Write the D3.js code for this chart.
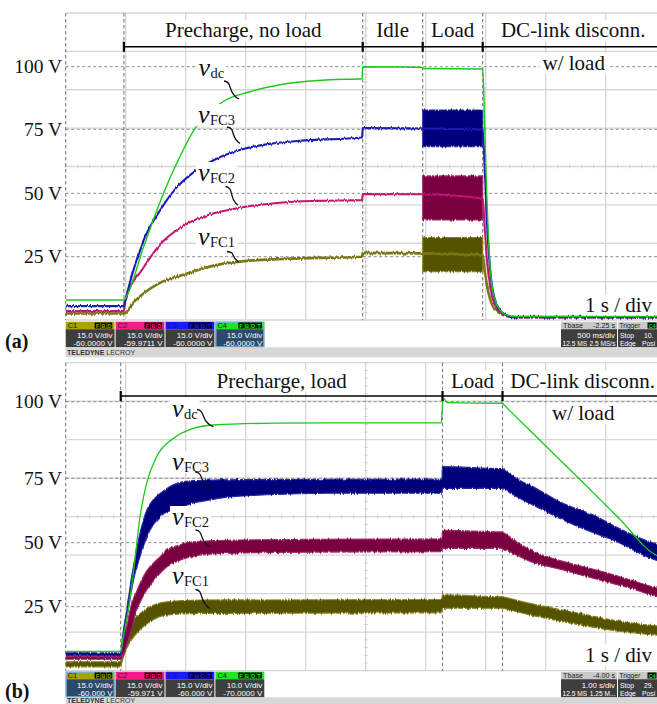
<!DOCTYPE html>
<html>
<head>
<meta charset="utf-8">
<script src="https://cdn.jsdelivr.net/npm/d3@7"></script>
<style>
  body { margin: 0; background: #fff; }
  svg { display: block; }
</style>
</head>
<body>
<svg id="fig" width="657" height="704"></svg>
<script>
// ---------------- data ----------------
// time in seconds (1 s per division), voltages in volts
const voltTicks  = [25, 50, 75, 100];
const voltLabels = ["25 V", "50 V", "75 V", "100 V"];

// (a) precharge without load, idle, load, DC-link disconnection
const phaseNamesA = ["Precharge, no load", "Idle", "Load", "DC-link disconn."];
const phaseEdgesA = [0.97, 4.95, 5.95, 6.95, 9.97];

const vdcA = [[0,7.5],[0.97,7.5],[0.99,8],[1.3,29],[1.5,42],[1.63,50],[1.9,64.2],[2.16,75.5],[2.4,81.5],
  [2.62,86],[3.07,90],[3.57,92.8],[4.4,94.8],[4.94,95.2],[4.95,100],[5.5,99.9],[5.94,99.7],[5.96,99.3],
  [6.95,99.1],[6.97,88],[6.99,70],[7.02,48],[7.05,30],[7.1,14],[7.15,8],[7.23,3.6],[7.34,1.5],[7.5,0.8],[9.9,0.8]];
const vFC3A = [[0,5],[0.97,5],[0.99,7],[1.29,31],[1.6,44.3],[1.85,52.3],[2.13,58.2],[2.49,63.2],[2.9,66.9],
  [3.4,69.3],[3.9,70.5],[4.94,71.8],[4.95,75.5],[5.95,75.3],[6.95,75],[6.98,62],[7.01,44],[7.05,27],
  [7.1,14],[7.15,8],[7.23,3.6],[7.34,1.4],[7.5,0.5],[9.9,0.5]];
const vFC2A = [[0,3],[0.97,3],[0.99,7],[1.29,20.3],[1.62,31],[2.0,37.7],[2.4,41.6],[2.9,44.3],[3.57,46.3],
  [4.18,47],[4.94,47.3],[4.95,49.7],[5.95,49.6],[6.95,48],[6.98,38],[7.01,27],[7.05,17],[7.1,9.5],
  [7.15,5.8],[7.23,2.8],[7.34,1.1],[7.5,0.4],[9.9,0.4]];
const vFC1A = [[0,2],[0.97,2],[1.15,7],[1.57,14.4],[1.96,17.7],[2.52,21.7],[2.9,23],[3.63,24.1],[4.94,25],
  [4.95,26.5],[5.95,26.3],[6.95,25.5],[6.98,20],[7.01,15],[7.05,10],[7.1,6],[7.15,4],[7.23,2.2],
  [7.34,1],[7.5,0.6],[9.9,0.6]];
// switching ripple envelopes while loaded: [t, min, max]
const bandFC3A = [[5.95,68.2,82.7],[6.95,68.2,82.7]];
const bandFC2A = [[5.95,39.5,56.8],[6.95,39.5,56.8]];
const bandFC1A = [[5.95,18.9,32.6],[6.95,18.9,32.6]];

// (b) precharge with load, load, DC-link disconnection
const phaseNamesB = ["Precharge, load", "Load", "DC-link disconn."];
const phaseEdgesB = [0.917, 6.28, 7.28, 9.95];

const vdcB = [[0,7.5],[0.917,7.5],[0.95,12],[1.03,22],[1.127,38],[1.238,60],[1.35,73.2],[1.517,82.1],
  [1.793,88],[2.127,91.3],[2.46,92.4],[3.5,93],[4.405,93.1],[6.26,93.1],[6.28,99],[6.3,101],[6.36,99.7],
  [7.26,99.5],[7.28,99.5],[7.3,99.1],[7.9,87.5],[8.55,75],[9.2,60],[9.85,45],[9.9,44.5]];
const bandFC3B = [[0,6,7],[0.917,6,7],[0.95,10,14],[1.017,20,23.7],[1.072,27.6,33],[1.127,35,40.6],
  [1.238,44.5,53.7],[1.35,52,62.6],[1.405,54.8,65],[1.572,60,69.1],[1.683,61.9,71],[1.793,62.6,72.5],
  [2.127,65.4,74.1],[2.46,66.8,74.3],[2.572,67.3,74.4],[3.35,68.6,74.5],[4.405,69.2,74.6],[6.27,69.2,74.6],
  [6.28,71.1,78.8],[6.3,71.1,78.8],[7.26,71.1,78.2],[7.28,71.1,78.2],[7.3,70.8,77.9],[7.627,66.5,73.5],
  [7.738,65.2,72.4],[7.96,62.6,69.5],[8.183,60,66.5],[8.905,52.9,59.5],[9.072,51.5,57.4],[9.85,43.1,49.6],
  [9.9,42.8,49.3]];
const bandFC2B = [[0,4.5,5.5],[0.917,4.5,5.5],[0.96,6,11.9],[1.043,12,20],[1.072,14,23.7],[1.183,23.7,31],
  [1.238,26.5,34.1],[1.35,31.5,39],[1.46,35,42],[1.572,38,44.5],[1.683,40.5,47.1],[1.85,42.6,48.8],
  [2.017,44,50],[2.238,45.2,50.5],[2.46,45.6,50.8],[2.793,45.9,51],[4,46.3,51.3],[6.27,46.5,51.5],
  [6.28,47.8,54.8],[6.3,47.8,54.8],[7.26,47.8,54.2],[7.28,47.8,54.2],[7.3,47.6,53.9],[7.74,42.7,47.2],
  [8.29,39.3,42.7],[8.57,37.5,41],[9.13,34,37.5],[9.405,32.3,35.5],[9.85,29,32.3],[9.9,28.8,32]];
const bandFC1B = [[0,1.5,3.5],[0.917,1.5,3.5],[0.933,3,9.4],[1.017,8.75,15.9],[1.183,14.6,21.1],
  [1.405,19.1,25],[1.683,21.8,26.9],[2.238,22.4,27.6],[6.27,22.6,27.8],[6.28,24.4,29.6],[6.3,24.4,29.6],
  [7.26,24.4,28.9],[7.28,24.4,28.9],[7.3,24.3,28.8],[7.738,21.8,26.3],[8.572,17.9,22.4],[9.293,15.2,19.1],
  [9.85,13.9,17.5],[9.9,13.8,17.4]];

// oscilloscope status bar
const channelNames = ["C1", "C2", "C3", "C4"];
const channelFlags = ["FBD", "FBD", "FBDT", "FBDT"];
const voltsPerDivA = ["15.0 V/div", "15.0 V/div", "15.0 V/div", "15.0 V/div"];
const offsetsA     = ["-60.0000 V", "-59.9711 V", "-60.0000 V", "-60.0000 V"];
const voltsPerDivB = ["15.0 V/div", "15.0 V/div", "15.0 V/div", "10.0 V/div"];
const offsetsB     = ["-60.000 V", "-59.971 V", "-60.000 V", "-70.0000 V"];
const timebaseA = ["-2.25 s", "500 ms/div", "12.5 MS", "2.5 MS/s"];
const timebaseB = ["-4.00 s", "1.00 s/div", "12.5 MS", "1.25 M..."];
const triggerA  = ["Stop", "10.", "Edge", "Posi"];
const triggerB  = ["Stop", "29.", "Edge", "Posi"];

// ---------------- drawing ----------------
const W = 657, H = 704;
const SERIF = "'Liberation Serif', 'Times New Roman', serif";
const SANS = "'Liberation Sans', Arial, sans-serif";
const svg = d3.select("#fig");

// vertical-only jitter for the switching-noise traces
const defs = svg.append("defs");
const jf = defs.append("filter").attr("id", "jitter")
  .attr("x", "-2%").attr("y", "-10%").attr("width", "104%").attr("height", "120%");
jf.append("feTurbulence").attr("type", "fractalNoise").attr("baseFrequency", "0.7 0.03")
  .attr("numOctaves", 1).attr("seed", 4).attr("result", "n");
jf.append("feColorMatrix").attr("in", "n").attr("type", "matrix")
  .attr("values", "0 0 0 0 0.5  1 0 0 0 0  0 0 0 0 0  0 0 0 0 1").attr("result", "m");
jf.append("feDisplacementMap").attr("in", "SourceGraphic").attr("in2", "m").attr("scale", 4)
  .attr("xChannelSelector", "R").attr("yChannelSelector", "G");

const x = d3.scaleLinear().domain([0, 10]).range([65.7, 665.7]);

const colors = {
  green: "#19c819", blue: "#1c1cb4", pink: "#c2166f", olive: "#7c7714",
  blueBand: "#05057a", pinkBand: "#78063f", oliveBand: "#575200",
  blueEdge: "#2a2aa8", pinkEdge: "#a8286a", oliveEdge: "#86821e"
};

function drawPanel(cfg) {
  const g = svg.append("g");
  const y = cfg.y;
  const left = x(0), right = W, top = cfg.top, bottom = cfg.bottom;

  const clipId = "clip" + cfg.id;
  defs.append("clipPath").attr("id", clipId)
    .append("rect").attr("x", left).attr("y", top).attr("width", right - left).attr("height", bottom - top);

  // scope graticule
  const hGrid = d3.range(9).map(k => top + k * (bottom - top) / 8);
  g.selectAll(null).data(hGrid).join("line")
    .attr("x1", left).attr("x2", right).attr("y1", d => d).attr("y2", d => d)
    .attr("stroke", "#d6d6d6").attr("stroke-width", 1.3);
  g.selectAll(null).data(d3.range(1, 10)).join("line")
    .attr("x1", d => x(d)).attr("x2", d => x(d)).attr("y1", top).attr("y2", bottom)
    .attr("stroke", "#d6d6d6").attr("stroke-width", 1.3);
  // minor ticks on the centre lines
  const midY = hGrid[4], midX = x(5);
  g.selectAll(null).data(d3.range(0, 10.01, 0.2)).join("line")
    .attr("x1", d => x(d)).attr("x2", d => x(d)).attr("y1", midY - 2).attr("y2", midY + 2)
    .attr("stroke", "#d0d0d0").attr("stroke-width", 1);
  g.selectAll(null).data(d3.range(0, 40.01)).join("line")
    .attr("x1", midX - 2).attr("x2", midX + 2)
    .attr("y1", d => top + d * (bottom - top) / 40).attr("y2", d => top + d * (bottom - top) / 40)
    .attr("stroke", "#d0d0d0").attr("stroke-width", 1);

  // voltage reference lines
  g.selectAll(null).data(voltTicks).join("line")
    .attr("x1", left).attr("x2", right).attr("y1", d => y(d)).attr("y2", d => y(d))
    .attr("stroke", "#8c8c8c").attr("stroke-width", 1).attr("stroke-dasharray", "3,2.5");

  // left edge and phase boundaries
  const vDashed = [0].concat(cfg.edges.slice(0, -1));
  g.selectAll(null).data(vDashed).join("line")
    .attr("x1", d => x(d)).attr("x2", d => x(d)).attr("y1", top).attr("y2", bottom)
    .attr("stroke", "#7a7a7a").attr("stroke-width", 1.1).attr("stroke-dasharray", "3.5,2.5");

  // y-axis labels
  g.selectAll(null).data(voltTicks).join("text")
    .attr("x", 62).attr("y", d => y(d)).attr("dy", "0.33em")
    .attr("text-anchor", "end").attr("font-family", SERIF).attr("font-size", 19.5)
    .attr("fill", "#111").text((d, i) => voltLabels[i]);

  // traces
  const plot = g.append("g").attr("clip-path", `url(#${clipId})`);
  const line = d3.line().x(d => x(d[0])).y(d => y(d[1])).curve(d3.curveMonotoneX);
  const area = d3.area().x(d => x(d[0])).y0(d => y(d[1])).y1(d => y(d[2])).curve(d3.curveMonotoneX);

  cfg.bands.forEach(b => {
    plot.append("path").datum(b.data).attr("d", area)
      .attr("fill", b.fill).attr("stroke", b.edge).attr("stroke-width", 1.1).attr("stroke-linejoin", "round")
      .attr("filter", "url(#jitter)");
  });
  cfg.lines.forEach(l => {
    const p = plot.append("path").datum(l.data).attr("d", line)
      .attr("fill", "none").attr("stroke", l.color).attr("stroke-width", l.width)
      .attr("stroke-linejoin", "round");
    if (l.noisy) p.attr("filter", "url(#jitter)");
  });

  // phase header bar
  const hy = cfg.headerY;
  g.append("line").attr("x1", x(cfg.edges[0])).attr("x2", right).attr("y1", hy).attr("y2", hy)
    .attr("stroke", "#000").attr("stroke-width", 1.6);
  g.selectAll(null).data(cfg.edges.slice(0, -1)).join("line")
    .attr("x1", d => x(d)).attr("x2", d => x(d)).attr("y1", hy - 5).attr("y2", hy + 5)
    .attr("stroke", "#000").attr("stroke-width", 2.2);
  cfg.names.forEach((name, i) => {
    const cx = (x(cfg.edges[i]) + x(cfg.edges[i + 1])) / 2;
    labelWithBg(g, cx, cfg.headerTextY, name, "middle", 21, 1.5);
  });

  // annotations
  labelWithBg(g, cfg.wload[0], cfg.wload[1], "w/ load", "start", 21, 3);
  labelWithBg(g, cfg.perDiv[0], cfg.perDiv[1], "1 s / div", "start", 21, 3);

  cfg.traceLabels.forEach(t => {
    const txt = g.append("text").attr("x", t.x).attr("y", t.y)
      .attr("font-family", SERIF).attr("fill", "#111");
    txt.append("tspan").attr("font-style", "italic").attr("font-size", 26).text("v");
    txt.append("tspan").attr("font-size", 14.5).attr("dy", 2).attr("dx", 0.5).text(t.sub);
    const bb = txt.node().getBBox();
    const boxTop = bb.y + 4, boxBottom = t.y + 3;
    g.insert("rect", () => txt.node())
      .attr("x", bb.x - 2).attr("y", boxTop).attr("width", bb.width + 4).attr("height", boxBottom - boxTop)
      .attr("fill", "#fff");
    const [x0, y0] = t.from, [x1, y1] = t.to;
    g.append("path")
      .attr("d", `M${x0},${y0} C${x0 + 9},${y0 + 1} ${x0 + 3},${y1 - 6} ${x1},${y1}`)
      .attr("fill", "none").attr("stroke", "#111").attr("stroke-width", 1.3);
  });

  // panel tag
  g.append("text").attr("x", 5).attr("y", cfg.tagY)
    .attr("font-family", SERIF).attr("font-weight", "bold").attr("font-size", 20)
    .attr("fill", "#111").text(cfg.tag);

  drawStatus(cfg.statusY, cfg.status);
}

function labelWithBg(g, lx, ly, str, anchor, size, pad) {
  const t = g.append("text").attr("x", lx).attr("y", ly).attr("text-anchor", anchor)
    .attr("font-family", SERIF).attr("font-size", size).attr("fill", "#111").text(str);
  const bb = t.node().getBBox();
  g.insert("rect", () => t.node())
    .attr("x", bb.x - pad).attr("y", bb.y + 2).attr("width", bb.width + 2 * pad).attr("height", bb.height - 3)
    .attr("fill", "#fff");
}

function drawStatus(top, st) {
  const g = svg.append("g").attr("font-family", SANS);
  const headH = 7.5, bodyH = 18.1;
  const chColors = ["#aaa400", "#ff1a8c", "#1a1aff", "#22e622"];
  channelNames.forEach((c, i) => {
    const bx = 65.7 + i * 49.9, bw = 48.9;
    const sel = i === st.selected;
    g.append("rect").attr("x", bx).attr("y", top).attr("width", bw).attr("height", headH).attr("fill", chColors[i]);
    g.append("rect").attr("x", bx).attr("y", top + headH).attr("width", bw).attr("height", bodyH)
      .attr("fill", sel ? "#2c4a6a" : "#3e3e3e");
    if (sel) {
      g.append("rect").attr("x", bx + 0.5).attr("y", top + 0.5).attr("width", bw - 1).attr("height", headH + bodyH - 1)
        .attr("fill", "none").attr("stroke", "#6fb4e6").attr("stroke-width", 1.2);
    }
    g.append("text").attr("x", bx + 2).attr("y", top + 6.6).attr("font-size", 7.5).attr("fill", "#1a1a1a").text(c);
    const flags = channelFlags[i].split("");
    flags.forEach((f, k) => {
      const fx = bx + bw - 2 - (flags.length - k) * 6;
      g.append("rect").attr("x", fx).attr("y", top + 0.8).attr("width", 5.6).attr("height", 6).attr("fill", "#000");
      g.append("text").attr("x", fx + 2.8).attr("y", top + 6).attr("text-anchor", "middle")
        .attr("font-size", 5.8).attr("font-weight", "bold").attr("fill", chColors[i]).text(f);
    });
    g.append("text").attr("x", bx + bw - 2).attr("y", top + 16.3).attr("text-anchor", "end")
      .attr("font-size", 8).attr("fill", "#fff").text(st.vdiv[i]);
    g.append("text").attr("x", bx + bw - 2).attr("y", top + 23.8).attr("text-anchor", "end")
      .attr("font-size", 8).attr("fill", "#fff").text(st.offs[i]);
  });
  // timebase box
  const tx = 561, tw = 56;
  g.append("rect").attr("x", tx).attr("y", top).attr("width", tw).attr("height", headH).attr("fill", "#c9c9c9");
  g.append("rect").attr("x", tx).attr("y", top + headH).attr("width", tw).attr("height", bodyH).attr("fill", "#3e3e3e");
  g.append("text").attr("x", tx + 2).attr("y", top + 6.6).attr("font-size", 7.2).attr("fill", "#1a1a1a").text("Tbase");
  g.append("text").attr("x", tx + tw - 2).attr("y", top + 6.6).attr("text-anchor", "end").attr("font-size", 7.2).attr("fill", "#1a1a1a").text(st.tbase[0]);
  g.append("text").attr("x", tx + tw - 2).attr("y", top + 16.3).attr("text-anchor", "end").attr("font-size", 7.8).attr("fill", "#fff").text(st.tbase[1]);
  g.append("text").attr("x", tx + 1.5).attr("y", top + 23.8).attr("font-size", 6.6).attr("fill", "#fff").text(st.tbase[2]);
  g.append("text").attr("x", tx + tw - 1.5).attr("y", top + 23.8).attr("text-anchor", "end").attr("font-size", 6.6).attr("fill", "#fff").text(st.tbase[3]);
  // trigger box (runs off the right edge)
  const gx = 618, gw = 60;
  g.append("rect").attr("x", gx).attr("y", top).attr("width", gw).attr("height", headH).attr("fill", "#c9c9c9");
  g.append("rect").attr("x", gx).attr("y", top + headH).attr("width", gw).attr("height", bodyH).attr("fill", "#3e3e3e");
  g.append("text").attr("x", gx + 1.5).attr("y", top + 6.4).attr("font-size", 6.6).attr("fill", "#1a1a1a").text("Trigger");
  g.append("rect").attr("x", gx + 29.5).attr("y", top + 0.8).attr("width", 9).attr("height", 6).attr("fill", "#000");
  g.append("text").attr("x", gx + 34).attr("y", top + 6).attr("text-anchor", "middle").attr("font-size", 5.6)
    .attr("font-weight", "bold").attr("fill", st.trigColor).text(st.trigCh);
  g.append("text").attr("x", gx + 2).attr("y", top + 16.3).attr("font-size", 6.8).attr("fill", "#fff").text(st.trig[0]);
  g.append("text").attr("x", gx + 26).attr("y", top + 16.3).attr("font-size", 6.8).attr("fill", "#fff").text(st.trig[1]);
  g.append("text").attr("x", gx + 2).attr("y", top + 23.8).attr("font-size", 6.8).attr("fill", "#fff").text(st.trig[2]);
  g.append("text").attr("x", gx + 24).attr("y", top + 23.8).attr("font-size", 6.8).attr("fill", "#fff").text(st.trig[3]);
  // brand strip
  const sy = top + headH + bodyH;
  g.append("rect").attr("x", 65.7).attr("y", sy).attr("width", W - 65.7).attr("height", 10).attr("fill", "#d7d7d7");
  const brand = g.append("text").attr("x", 67).attr("y", Math.min(sy + 8, H - 1)).attr("font-size", 7)
    .attr("fill", "#333");
  brand.append("tspan").attr("font-weight", "bold").text("TELEDYNE");
  brand.append("tspan").text(" LECROY");
}

// ---- panel (a) ----
drawPanel({
  id: "A", tag: "(a)", tagY: 348,
  top: 13, bottom: 320,
  y: d3.scaleLinear().domain([0, 25, 50, 75, 100]).range([318.5, 256.7, 193.3, 129.3, 66.7]),
  edges: phaseEdgesA, names: phaseNamesA,
  headerY: 46.7, headerTextY: 37.3,
  wload: [542.5, 70], perDiv: [585, 311.5],
  bands: [
    { data: bandFC1A, fill: colors.oliveBand, edge: colors.oliveEdge },
    { data: bandFC2A, fill: colors.pinkBand, edge: colors.pinkEdge },
    { data: bandFC3A, fill: colors.blueBand, edge: colors.blueEdge }
  ],
  lines: [
    { data: vFC1A, color: colors.olive, width: 2.6, noisy: true },
    { data: vFC2A, color: colors.pink, width: 2.1, noisy: true },
    { data: vFC3A, color: colors.blue, width: 2.1, noisy: true },
    { data: vdcA, color: colors.green, width: 1.4 }
  ],
  traceLabels: [
    { x: 198.5, y: 75.5, sub: "dc", from: [224, 81], to: [239, 99] },
    { x: 198, y: 123, sub: "FC3", from: [227, 127], to: [240, 143.5] },
    { x: 198, y: 181, sub: "FC2", from: [225.5, 186.5], to: [238, 205] },
    { x: 198, y: 244.5, sub: "FC1", from: [227, 251.5], to: [238.5, 262] }
  ],
  statusY: 321.7,
  status: { selected: 3, vdiv: voltsPerDivA, offs: offsetsA, tbase: timebaseA, trig: triggerA, trigCh: "C4", trigColor: "#22e622" }
});

// ---- panel (b) ----
drawPanel({
  id: "B", tag: "(b)", tagY: 698,
  top: 362.7, bottom: 670.7,
  y: d3.scaleLinear().domain([0, 25, 50, 75, 100]).range([670.7, 606.7, 542.7, 478.3, 401.7]),
  edges: phaseEdgesB, names: phaseNamesB,
  headerY: 396, headerTextY: 387.5,
  wload: [552, 420], perDiv: [585, 661.5],
  bands: [
    { data: bandFC1B, fill: colors.oliveBand, edge: colors.oliveEdge },
    { data: bandFC2B, fill: colors.pinkBand, edge: colors.pinkEdge },
    { data: bandFC3B, fill: colors.blueBand, edge: colors.blueEdge }
  ],
  lines: [
    { data: vdcB, color: colors.green, width: 1.3 }
  ],
  traceLabels: [
    { x: 172, y: 416.5, sub: "dc", from: [197, 409.5], to: [213.5, 427] },
    { x: 172, y: 470, sub: "FC3", from: [195.5, 472], to: [211.5, 490] },
    { x: 172, y: 525, sub: "FC2", from: [195.5, 530], to: [210, 547] },
    { x: 172, y: 583.5, sub: "FC1", from: [195.5, 589.5], to: [210, 608.5] }
  ],
  statusY: 671.7,
  status: { selected: 0, vdiv: voltsPerDivB, offs: offsetsB, tbase: timebaseB, trig: triggerB, trigCh: "C4", trigColor: "#22e622" }
});
</script>
</body>
</html>
